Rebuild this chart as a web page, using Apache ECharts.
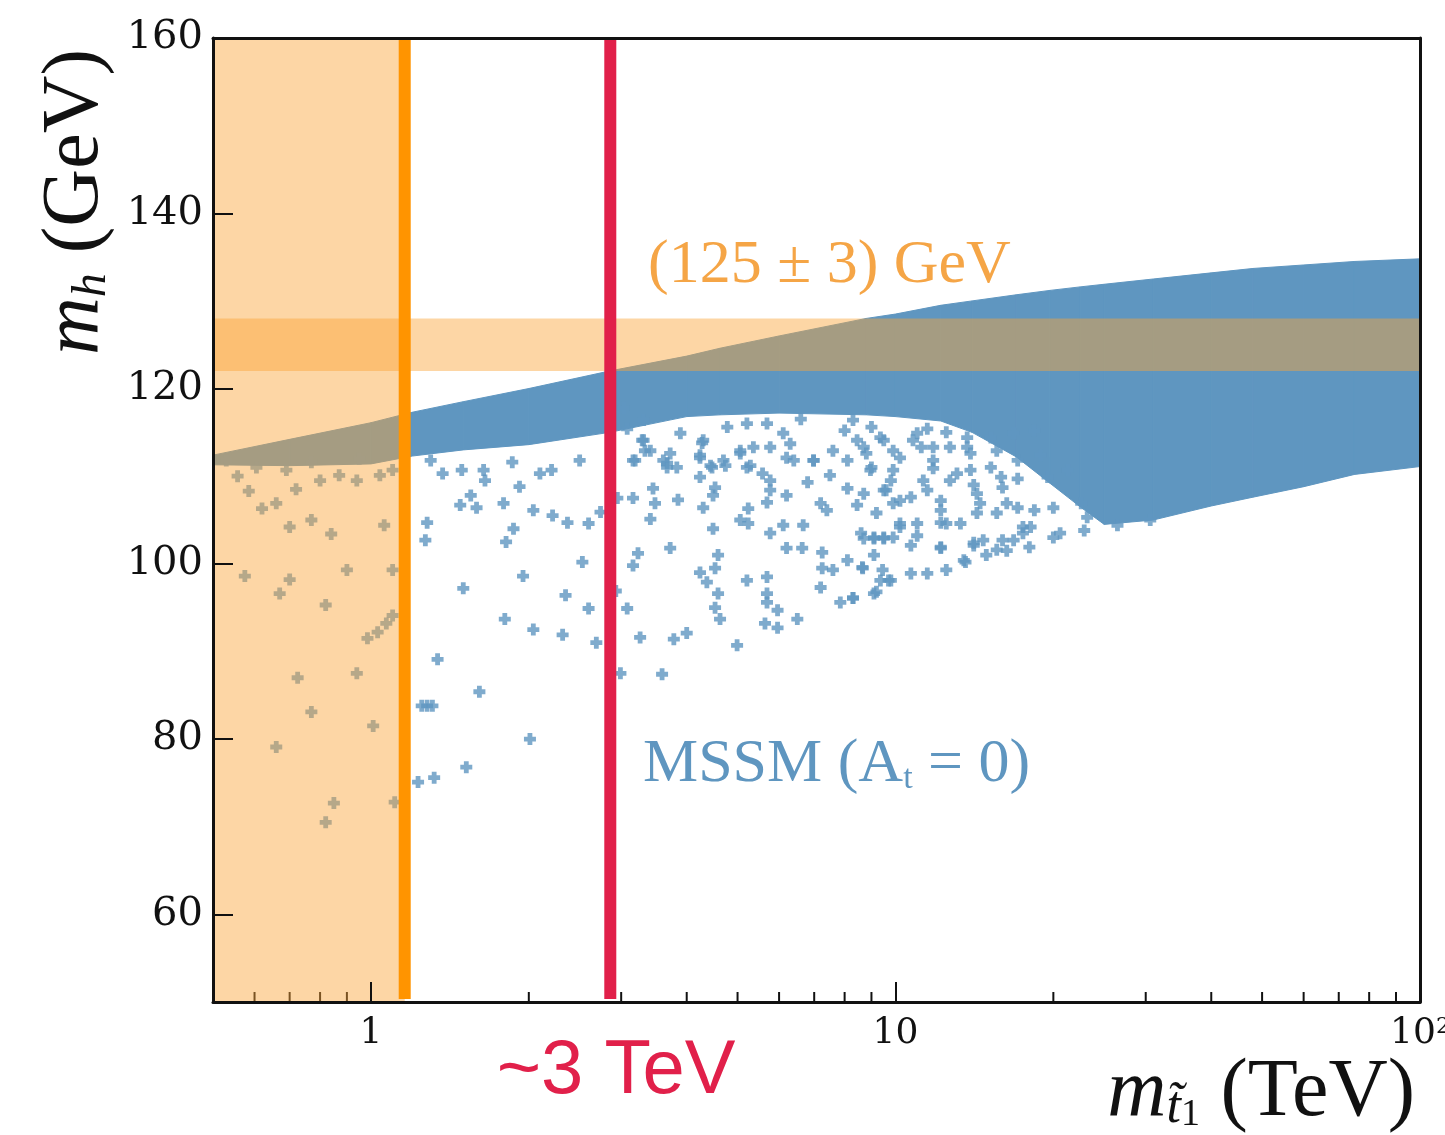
<!DOCTYPE html>
<html>
<head>
<meta charset="utf-8">
<script src="https://cdn.jsdelivr.net/npm/echarts@6.0.0/dist/echarts.min.js"></script>
<style>
  html, body { margin: 0; padding: 0; background: #fff; }
  #chart { width: 1445px; height: 1135px; }
</style>
</head>
<body>
<div id="chart"></div>
<script>
const chart = echarts.init(document.getElementById("chart"), null, { renderer: "canvas" });

const BLUE = "#5F96C0";
const SHADE = "rgba(250,165,55,0.45)";

// axis ticks
const xMinorTicks = [0.6, 0.7, 0.8, 0.9, 2, 3, 4, 5, 6, 7, 8, 9, 20, 30, 40, 50, 60, 70, 80, 90];
const yTicks = [60, 80, 100, 120, 140, 160];

// dense part of the MSSM scan (upper / lower edge, TeV -> GeV)
const bandX = [0.5, 0.7, 1.0, 1.2, 1.5, 2.0, 2.85, 4.0, 4.63, 6.0, 8.8, 10, 12.2, 14, 17, 19.7, 22.5, 25, 31, 40, 48, 60, 75, 100];
const bandUpper = [112.4, 114.2, 116.1, 117.3, 118.5, 120.0, 122.0, 123.7, 124.6, 126.0, 128.0, 128.5, 129.5, 130.0, 130.7, 131.2, 131.6, 131.9, 132.5, 133.2, 133.7, 134.1, 134.5, 134.8];
const bandLower = [111.3, 111.2, 111.4, 112.3, 113.0, 113.6, 115.0, 116.8, 117.0, 117.2, 117.0, 116.8, 116.3, 115.0, 112.2, 109.2, 106.5, 104.5, 105.0, 106.6, 107.6, 108.8, 110.2, 111.1];

// sparse scan points below the dense band
const mssmPoints = [
  [0.53, 111.8], [0.557, 110.0], [0.585, 108.3], [0.605, 111.0], [0.62, 106.3], [0.66, 106.9],
  [0.69, 110.7], [0.70, 104.2], [0.72, 108.5], [0.77, 105.0], [0.77, 111.6], [0.80, 109.5],
  [0.84, 103.4], [0.87, 110.1], [0.94, 109.5], [0.95, 112.0], [1.04, 110.1], [1.06, 104.4], [1.10, 110.7],
  [0.575, 98.6], [0.70, 98.2], [0.67, 96.6], [0.82, 95.3], [0.90, 99.3], [1.10, 99.3],
  [0.985, 91.5], [1.03, 92.2], [1.07, 93.2], [1.10, 94.1],
  [0.725, 87.0], [0.94, 87.5], [0.77, 83.1], [1.01, 81.5], [0.66, 79.1], [0.85, 72.7], [0.82, 70.5], [1.11, 72.8],
  [1.30, 111.8], [1.37, 110.3], [1.49, 110.7], [1.64, 110.7], [1.65, 109.5], [1.86, 111.6], [1.92, 108.8],
  [2.10, 110.3], [2.21, 110.7], [2.50, 111.8], [1.55, 107.8], [1.48, 106.7], [1.59, 106.4], [1.79, 106.9],
  [2.04, 106.1], [2.22, 105.5], [2.37, 104.7], [2.60, 104.6], [2.74, 105.9], [1.28, 104.7], [1.27, 102.7],
  [1.87, 104.0], [1.81, 102.5], [2.53, 100.2], [1.95, 98.6], [1.50, 97.2], [2.35, 96.4], [2.60, 94.9],
  [1.80, 93.7], [2.04, 92.5], [2.32, 91.9], [2.69, 91.0], [1.34, 89.1], [1.61, 85.4],
  [1.25, 83.8], [1.28, 83.8], [1.31, 83.8], [1.23, 75.1], [1.32, 75.6], [1.52, 76.8], [2.01, 80.0],
  [2.95, 107.5], [3.16, 107.5], [3.45, 108.6], [3.48, 106.9], [3.85, 107.3], [3.41, 105.1], [3.23, 101.2],
  [3.16, 99.8], [3.72, 101.8], [2.93, 96.9], [3.08, 94.9], [3.26, 91.6], [3.78, 91.4], [4.0, 92.1],
  [2.99, 87.5], [3.59, 87.4], [4.28, 113.8], [4.24, 112.1], [4.47, 111.0], [4.74, 111.2], [4.24, 109.9],
  [4.53, 108.7], [4.49, 107.8], [4.30, 106.4], [4.49, 104.0], [4.59, 101.0], [4.53, 99.5], [4.24, 99.0],
  [4.37, 97.9], [4.59, 96.6], [4.53, 95.0], [4.63, 93.7], [4.99, 90.7], [5.21, 98.1], [5.69, 98.5],
  [5.69, 96.6], [5.69, 95.6], [5.96, 94.7], [5.64, 93.2], [5.96, 92.7], [6.50, 93.7], [5.06, 105.0],
  [5.24, 106.3], [5.69, 107.0], [5.77, 103.5], [6.11, 104.4], [6.67, 104.4], [6.20, 101.8], [6.64, 101.8],
  [7.25, 101.3], [7.25, 99.5], [7.6, 99.3], [8.1, 100.4], [8.66, 99.5], [7.2, 97.3], [7.85, 95.6],
  [8.3, 96.1], [9.1, 96.6], [9.36, 98.1], [9.7, 98.1], [7.2, 106.9], [7.4, 106.1], [8.45, 106.7],
  [9.1, 103.0], [9.9, 103.0], [9.5, 108.4], [8.1, 108.6], [7.5, 110.1], [8.96, 110.7], [8.1, 111.8],
  [6.98, 111.8], [6.2, 112.1], [5.29, 111.2], [5.58, 110.3], [5.77, 109.5], [5.77, 108.4], [6.2, 107.8],
  [6.8, 109.3], [5.24, 104.6], [3.33, 112.9], [3.61, 111.8], [3.67, 111.0], [3.19, 111.8], [3.29, 114.1],
  [5.06, 112.6], [5.36, 113.3],
  [3.03, 117.8], [3.31, 116.4], [3.08, 115.4], [3.31, 114.1], [3.41, 112.9], [3.16, 111.8], [3.72, 112.6],
  [3.83, 111.0], [3.67, 111.5], [3.89, 114.9], [4.30, 114.1], [4.24, 112.4], [4.44, 111.2], [4.78, 115.6],
  [4.70, 111.8], [5.06, 112.9], [5.21, 111.0], [5.69, 116.0], [5.77, 113.3], [6.11, 114.9], [6.3, 113.7],
  [6.4, 111.8], [6.98, 111.8], [7.6, 112.9], [8.0, 115.2], [8.3, 116.4], [8.45, 114.1], [8.8, 112.6],
  [9.36, 114.4], [5.21, 116.0], [6.6, 116.5],
  [8.7, 102.9], [9.1, 102.9], [9.5, 102.9], [11.0, 103.2], [10.7, 102.1], [12.2, 101.8], [9.1, 101.0],
  [8.65, 99.6], [9.45, 99.3], [9.8, 98.1], [9.2, 96.8], [8.3, 96.1], [10.7, 98.9], [11.5, 98.9],
  [12.5, 99.3], [13.6, 100.2], [14.1, 102.1], [14.9, 101.0], [16.0, 102.7], [16.3, 101.5], [17.5, 103.5],
  [18.0, 101.9], [20.0, 103.0], [22.9, 103.8], [26.5, 104.4], [30.6, 105.0], [10.2, 104.2], [12.2, 104.7],
  [9.0, 115.6], [11.0, 114.9], [9.5, 114.1], [8.7, 113.3], [11.2, 113.3], [10.2, 112.1], [9.0, 111.0],
  [11.8, 111.8], [12.7, 113.3], [9.8, 109.5], [11.3, 109.5], [13.1, 110.3], [8.7, 108.0], [10.2, 107.2],
  [12.2, 107.2], [14.3, 108.0], [9.2, 105.8], [11.0, 104.6], [13.3, 104.6], [15.6, 105.8], [8.6, 103.5],
  [14.7, 102.7], [13.7, 113.3], [15.2, 111.0], [16.0, 108.7], [17.1, 106.4], [18.1, 104.2],
  [11.5, 115.4], [12.5, 115.0], [13.7, 114.4], [15.2, 114.4], [16.8, 114.9], [18.4, 115.2], [9.9, 112.9],
  [10.8, 114.1], [11.8, 113.3], [13.9, 112.6], [15.6, 112.9], [17.1, 111.8], [18.9, 112.4], [9.9, 110.7],
  [11.8, 110.9], [13.9, 110.7], [14.1, 109.0], [15.9, 109.9], [17.1, 109.7], [19.5, 109.9], [21.3, 110.7],
  [12.7, 109.5], [9.6, 108.4], [10.7, 107.6], [11.5, 108.4], [9.9, 106.9], [12.2, 106.1], [14.5, 106.9],
  [16.3, 106.9], [18.4, 106.1], [20.0, 106.4], [22.6, 106.9], [23.2, 105.3], [10.2, 104.6], [12.5, 104.6],
  [14.3, 105.8], [17.5, 104.2], [20.6, 103.5], [14.1, 102.4], [15.6, 101.6], [16.8, 102.7], [12.2, 101.9],
  [13.5, 100.4], [9.5, 103.0]
];

// shaded regions: [xFrom, xTo, yFrom, yTo]
const shadedRegions = [
  [0.5, 1.16, 50, 160],   // stop mass excluded
  [0.5, 100, 122, 128]    // (125 ± 3) GeV
];

// vertical markers (TeV)
const markerX = [1.16, 2.86];
const markerColors = ["#FF9400", "#E1204A"];

const serif = "Liberation Serif";

function renderBand(params, api) {
  const i = params.dataIndex;
  if (i >= bandX.length - 1) return null;
  const pts = [
    api.coord([bandX[i], bandUpper[i]]),
    api.coord([bandX[i + 1], bandUpper[i + 1]]),
    api.coord([bandX[i + 1], bandLower[i + 1]]),
    api.coord([bandX[i], bandLower[i]])
  ];
  return { type: "polygon", shape: { points: pts }, style: { fill: BLUE, stroke: BLUE, lineWidth: 1 } };
}

function renderShade(params, api) {
  const p0 = api.coord([api.value(0), api.value(3)]);
  const p1 = api.coord([api.value(1), api.value(2)]);
  return {
    type: "rect",
    shape: { x: p0[0], y: p0[1], width: p1[0] - p0[0], height: p1[1] - p0[1] },
    style: { fill: SHADE }
  };
}

function renderMarker(params, api) {
  const top = api.coord([api.value(0), 160]);
  const bottom = api.coord([api.value(0), 50]);
  return {
    type: "line",
    shape: { x1: top[0], y1: top[1] + 1, x2: bottom[0], y2: bottom[1] - 3 },
    style: { stroke: markerColors[params.dataIndex], lineWidth: 12 }
  };
}

function renderMinorTick(params, api) {
  const p = api.coord([api.value(0), 50]);
  return {
    type: "line",
    shape: { x1: p[0], y1: p[1], x2: p[0], y2: p[1] - 10 },
    style: { stroke: "#111", lineWidth: 2 }
  };
}

const option = {
  animation: false,
  backgroundColor: "#fff",
  grid: { left: 213, right: 25, top: 38, bottom: 133, containLabel: false, outerBoundsMode: "none" },
  xAxis: [
    {
      type: "log",
      logBase: 10,
      min: 0.5,
      max: 100,
      z: 30,
      axisLine: { show: true, lineStyle: { color: "#111", width: 3 } },
      axisTick: { show: true, inside: true, length: 20, lineStyle: { color: "#111", width: 2 } },
      minorTick: { show: false },
      splitLine: { show: false },
      axisLabel: {
        showMinLabel: false,
        margin: 14,
        color: "#111",
        fontFamily: "DejaVu Serif",
        fontSize: 36,
        formatter: function (v) {
          const r = Math.round(v);
          if (r === 100) return "10{sup|2}";
          return String(r);
        },
        rich: {
          sup: { fontFamily: "DejaVu Serif", fontSize: 22, color: "#111", verticalAlign: "top", padding: [0, 0, 12, 0] }
        }
      }
    },
    {
      type: "log",
      logBase: 10,
      min: 0.5,
      max: 100,
      position: "top",
      z: 30,
      axisLine: { show: true, lineStyle: { color: "#111", width: 3 } },
      axisTick: { show: false },
      axisLabel: { show: false },
      splitLine: { show: false }
    }
  ],
  yAxis: [
    {
      type: "value",
      min: 50,
      max: 160,
      z: 30,
      axisLine: { show: true, lineStyle: { color: "#111", width: 3 } },
      axisTick: { show: true, inside: true, length: 20, customValues: yTicks, lineStyle: { color: "#111", width: 2 } },
      splitLine: { show: false },
      axisLabel: {
        customValues: yTicks,
        margin: 10,
        color: "#111",
        fontFamily: "DejaVu Serif",
        fontSize: 40
      }
    },
    {
      type: "value",
      min: 50,
      max: 160,
      position: "right",
      z: 30,
      axisLine: { show: true, lineStyle: { color: "#111", width: 3 } },
      axisTick: { show: false },
      axisLabel: { show: false },
      splitLine: { show: false }
    }
  ],
  series: [
    {
      name: "MSSM band",
      type: "custom",
      z: 2,
      renderItem: renderBand,
      encode: { x: 0, y: [1, 2] },
      data: bandX.map((x, i) => [x, bandUpper[i], bandLower[i]])
    },
    {
      name: "MSSM (At=0)",
      type: "scatter",
      z: 3,
      symbol: "path://M3,0H7V3H10V7H7V10H3V7H0V3H3Z",
      symbolSize: 12,
      itemStyle: { color: BLUE },
      data: mssmPoints
    },
    {
      name: "minor ticks",
      type: "custom",
      z: 5,
      renderItem: renderMinorTick,
      encode: { x: 0, y: 1 },
      data: xMinorTicks.map((v) => [v, 50])
    },
    {
      name: "shaded",
      type: "custom",
      z: 10,
      renderItem: renderShade,
      encode: { x: [0, 1], y: [2, 3] },
      data: shadedRegions
    },
    {
      name: "markers",
      type: "custom",
      z: 20,
      renderItem: renderMarker,
      encode: { x: 0, y: 1 },
      data: markerX.map((v) => [v, 100])
    }
  ],
  graphic: [
    {
      type: "text",
      x: 648,
      y: 266,
      z: 40,
      style: { text: "(125 ± 3) GeV", fontFamily: serif, fontSize: 62, fill: "#F5A546", verticalAlign: "middle" }
    },
    {
      type: "text",
      x: 643,
      y: 765,
      z: 40,
      style: {
        text: "{a|MSSM (A}{s|t}{a| = 0)}",
        verticalAlign: "middle",
        rich: {
          a: { fontFamily: serif, fontSize: 62, lineHeight: 62, fill: BLUE },
          s: { fontFamily: serif, fontSize: 34, lineHeight: 34, fill: BLUE, verticalAlign: "bottom" }
        }
      }
    },
    {
      type: "text",
      x: 616,
      y: 1072,
      z: 40,
      style: { text: "~3 TeV", fontFamily: "Liberation Sans", fontSize: 76, fill: "#E1204A", align: "center", verticalAlign: "middle" }
    },
    {
      type: "text",
      x: 1415,
      y: 1093,
      z: 40,
      style: {
        text: "{i|m}{s|t\u0303}{n|1}{a| (TeV)}",
        align: "right",
        verticalAlign: "middle",
        rich: {
          i: { fontFamily: serif, fontStyle: "italic", fontSize: 82, lineHeight: 82, fill: "#111" },
          s: { fontFamily: serif, fontStyle: "italic", fontSize: 52, lineHeight: 52, fill: "#111", verticalAlign: "bottom" },
          n: { fontFamily: serif, fontSize: 38, lineHeight: 38, fill: "#111", verticalAlign: "bottom" },
          a: { fontFamily: serif, fontSize: 82, lineHeight: 82, fill: "#111" }
        }
      }
    },
    {
      type: "text",
      x: 76,
      y: 202,
      z: 40,
      rotation: Math.PI / 2,
      style: {
        text: "{i|m}{s|h}{a| (GeV)}",
        align: "center",
        verticalAlign: "middle",
        rich: {
          i: { fontFamily: serif, fontStyle: "italic", fontSize: 80, lineHeight: 80, fill: "#111" },
          s: { fontFamily: serif, fontStyle: "italic", fontSize: 48, lineHeight: 48, fill: "#111", verticalAlign: "bottom" },
          a: { fontFamily: serif, fontSize: 80, lineHeight: 80, fill: "#111" }
        }
      }
    }
  ]
};

chart.setOption(option);

window.addEventListener("resize", function () {
  chart.resize();
});
</script>
</body>
</html>
